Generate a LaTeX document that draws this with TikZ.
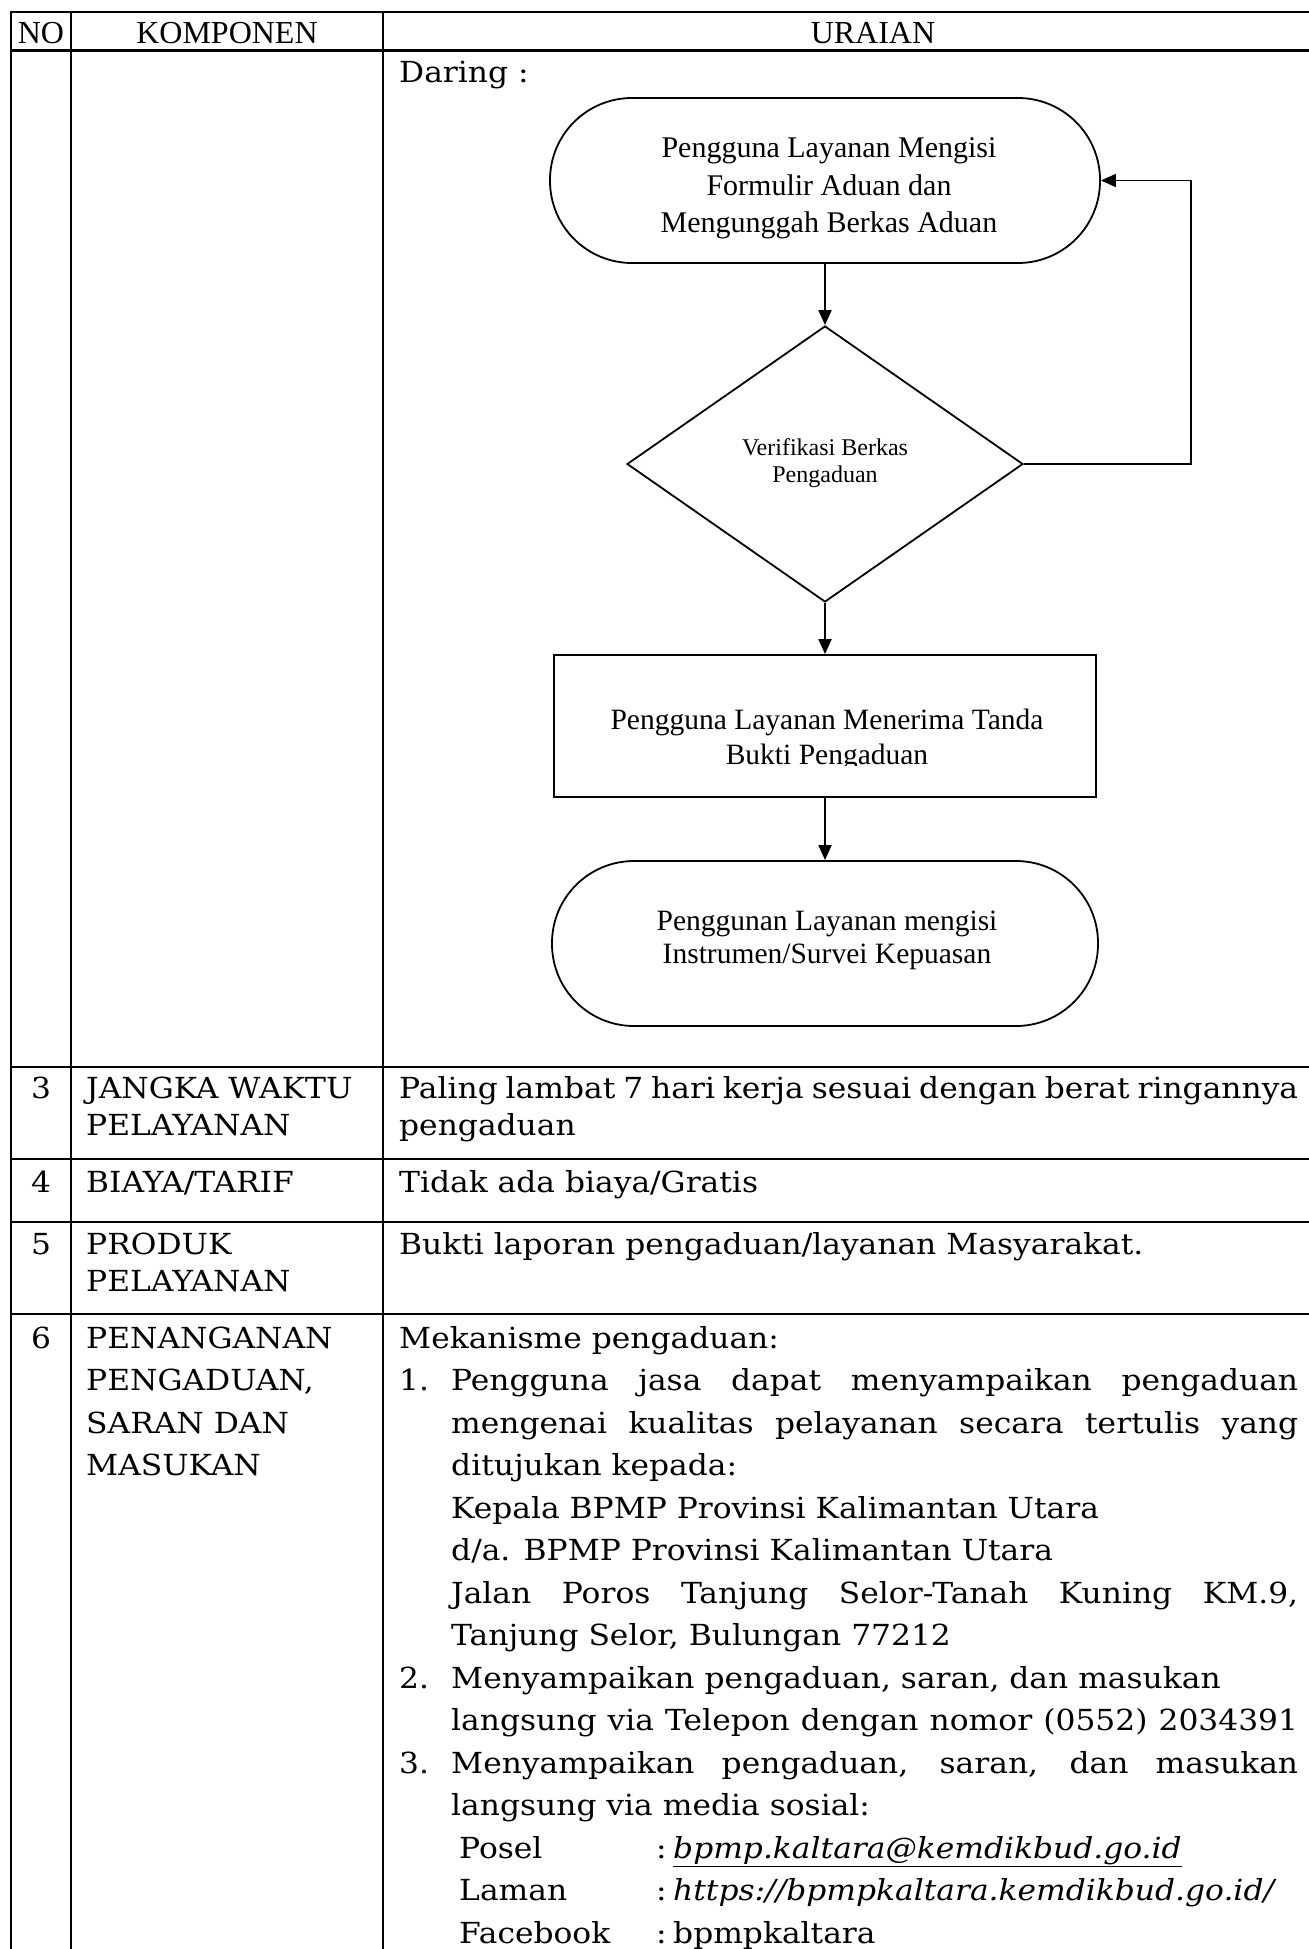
\documentclass[tikz,border=0pt]{standalone}
\usepackage{fontspec}
\setmainfont{DejaVu Serif}[FakeStretch=1.08]
\newfontfamily\tnr{Liberation Serif}
\usetikzlibrary{shapes.geometric,arrows.meta}
\newcommand\mybody{\fontsize{29}{35}\selectfont}
\newcommand\myhdr{\tnr\fontsize{32}{38}\selectfont}
\newcommand\myfc{\tnr\fontsize{30}{36}\selectfont}
\newcommand\myfcb{\tnr\fontsize{29.5}{35}\selectfont}
\newcommand\myfcs{\tnr\fontsize{24}{28}\selectfont}
\begin{document}
\begin{tikzpicture}[x=1pt,y=-1pt,
  grid/.style={line width=2.2pt},
  body/.style={inner sep=0pt,anchor=base west,font=\mybody},
  bodyc/.style={inner sep=0pt,anchor=base,font=\mybody},
  hdr/.style={inner sep=0pt,anchor=base,font=\myhdr},
  fct/.style={inner sep=0pt,anchor=base,font=\myfc},
  fctb/.style={inner sep=0pt,anchor=base,font=\myfcb},
  fcts/.style={inner sep=0pt,anchor=base,font=\myfcs},
  shp/.style={draw,line width=1.8pt,inner sep=0pt},
  term/.style={shp,rectangle,rounded corners=82pt,minimum height=165pt},
  dia/.style={shp,diamond,minimum width=396pt,minimum height=276pt},
  boxs/.style={shp,rectangle,minimum width=542pt,minimum height=142pt},
  arr/.style={line width=1.8pt,-{Triangle[length=15pt,width=13pt]}}]
\useasboundingbox (0,0) rectangle (1309,1949);
\fill[white] (0,0) rectangle (1309,1949);
% table grid
\foreach \yy in {12,50.5,1067,1159,1222,1314}
  \draw[grid] (11,\yy) -- (1315,\yy);
\foreach \xx in {11,71,383}
  \draw[grid] (\xx,11) -- (\xx,1955);
% header
\node[hdr] (hno) at (41,43) {NO};
\node[hdr] (hkomp) at (227,43) {KOMPONEN};
\node[hdr] (hur) at (873,43) {URAIAN};
% flowchart
\node[body] (daring) at (399,82) {Daring :};
\node[term,minimum width=550pt] (t1) at (825,180.5) {};
\node[dia] (d) at (825,464) {};
\node[boxs] (r) at (825,726) {};
\node[term,minimum width=546pt] (t2) at (825,943.5) {};
\node[fct] (t1a) at (829,157) {Pengguna Layanan Mengisi};
\node[fct] (t1b) at (829,195) {Formulir Aduan dan};
\node[fct] (t1c) at (829,232) {Mengunggah Berkas Aduan};
\node[fcts] (da) at (825,455) {Verifikasi Berkas};
\node[fcts] (db) at (825,482.5) {Pengaduan};
\begin{scope}
\clip (556,690) rectangle (1094,765);
\node[fctb] (ra) at (827,729) {Pengguna Layanan Menerima Tanda};
\node[fctb] (rb) at (827,764) {Bukti Pengaduan};
\end{scope}
\node[fctb] (t2a) at (827,930) {Penggunan Layanan mengisi};
\node[fctb] (t2b) at (827,963) {Instrumen/Survei Kepuasan};
\coordinate (fb) at (1191,180.5);
\draw[arr] (t1.south) -- (d.north);
\draw[arr] (d.south) -- (r.north);
\draw[arr] (r.south) -- (t2.north);
\draw[arr] (d.east) -| (fb) -- (t1.east);
% row 3
\node[bodyc] (n3) at (41,1098) {3};
\node[body] (k3a) at (86,1098) {JANGKA WAKTU};
\node[body] (k3b) at (86,1135) {PELAYANAN};
\node[body] (u3a) at (399,1098) {\makebox[899pt][s]{Paling lambat 7 hari kerja sesuai dengan berat ringannya}};
\node[body] (u3b) at (399,1135) {pengaduan};
% row 4
\node[bodyc] (n4) at (41,1192) {4};
\node[body] (k4) at (86,1192) {BIAYA/TARIF};
\node[body] (u4) at (399,1192) {Tidak ada biaya/Gratis};
% row 5
\node[bodyc] (n5) at (41,1254) {5};
\node[body] (k5a) at (86,1254) {PRODUK};
\node[body] (k5b) at (86,1291) {PELAYANAN};
\node[body] (u5) at (399,1254) {Bukti laporan pengaduan/layanan Masyarakat.};
% row 6
\node[bodyc] (n6) at (41,1348) {6};
\node[body] (k6a) at (86,1348) {PENANGANAN};
\node[body] (k6b) at (86,1390.5) {PENGADUAN,};
\node[body] (k6c) at (86,1433) {SARAN DAN};
\node[body] (k6d) at (86,1475.5) {MASUKAN};
\node[body] (l0) at (399,1348) {Mekanisme pengaduan:};
\node[body] (m1) at (399,1390.5) {1.};
\node[body] (l1) at (451,1390.5) {\makebox[847pt][s]{Pengguna jasa dapat menyampaikan pengaduan}};
\node[body] (l2) at (451,1433) {\makebox[847pt][s]{mengenai kualitas pelayanan secara tertulis yang}};
\node[body] (l3) at (451,1475.5) {ditujukan kepada:};
\node[body] (l4) at (451,1518) {Kepala BPMP Provinsi Kalimantan Utara};
\node[body] (l5) at (451,1560.5) {d/a. BPMP Provinsi Kalimantan Utara};
\node[body] (l6) at (451,1603) {\makebox[847pt][s]{Jalan Poros Tanjung Selor-Tanah Kuning KM.9,}};
\node[body] (l7) at (451,1645.5) {Tanjung Selor, Bulungan 77212};
\node[body] (m2) at (399,1688) {2.};
\node[body] (l8) at (451,1688) {Menyampaikan pengaduan, saran, dan masukan};
\node[body] (l9) at (451,1730.5) {\makebox[847pt][s]{langsung via Telepon dengan nomor (0552) 2034391}};
\node[body] (m3) at (399,1773) {3.};
\node[body] (l10) at (451,1773) {\makebox[847pt][s]{Menyampaikan pengaduan, saran, dan masukan}};
\node[body] (l11) at (451,1815.5) {langsung via media sosial:};
\node[body] (s1) at (459,1858) {Posel};
\node[body] (c1) at (656,1858) {:};
\node[body] (v1) at (673,1858) {\itshape\underline{bpmp.kaltara@kemdikbud.go.id}};
\node[body] (s2) at (459,1900.5) {Laman};
\node[body] (c2) at (656,1900.5) {:};
\node[body] (v2) at (673,1900.5) {\itshape https://bpmpkaltara.kemdikbud.go.id/};
\node[body] (s3) at (459,1943) {Facebook};
\node[body] (c3) at (656,1943) {:};
\node[body] (v3) at (673,1943) {bpmpkaltara};
\end{tikzpicture}
\end{document}
